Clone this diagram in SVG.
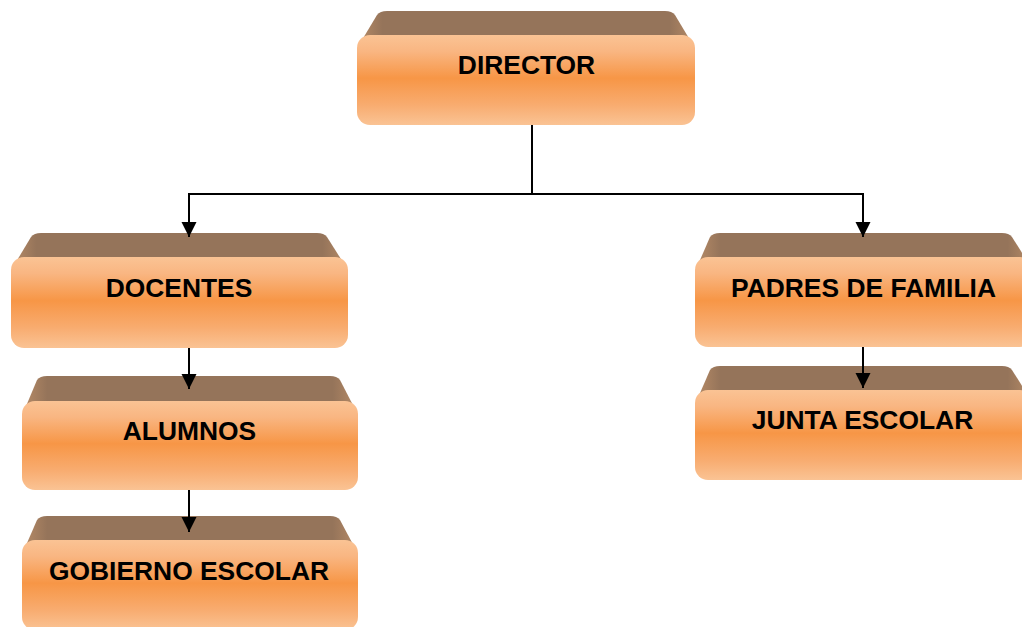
<svg xmlns="http://www.w3.org/2000/svg" width="1022" height="627" viewBox="0 0 1022 627">
  <defs>
    <linearGradient id="face" x1="0" y1="0" x2="0" y2="1">
      <stop offset="0" stop-color="#FAC394"/>
      <stop offset="0.18" stop-color="#F9B682"/>
      <stop offset="0.48" stop-color="#F79646"/>
      <stop offset="0.78" stop-color="#F8AC70"/>
      <stop offset="1" stop-color="#FAC394"/>
    </linearGradient>
    <linearGradient id="top" x1="0" y1="0" x2="1" y2="0">
      <stop offset="0" stop-color="#B58A66"/>
      <stop offset="0.07" stop-color="#95745A"/>
      <stop offset="0.93" stop-color="#95745A"/>
      <stop offset="1" stop-color="#B58A66"/>
    </linearGradient>
    <marker id="arrow" markerUnits="userSpaceOnUse" markerWidth="16" markerHeight="16" refX="15" refY="7.5" orient="auto">
      <path d="M0,0 L15,7.5 L0,15 Z" fill="#000"/>
    </marker>
    <style>
      .top { fill: url(#top); }
      .face { fill: url(#face); }
      .label { font-family: "Liberation Sans", Arial, sans-serif; font-weight: bold; font-size: 26.4px; fill: #000; text-anchor: middle; }
      .conn { fill: none; stroke: #000; stroke-width: 2; }
    </style>
  </defs>

  <g id="node-director">
    <path class="top" d="M359,45 L377,15 Q380,11 387,11 L665,11 Q672,11 675,15 L693,45 Z"/>
    <rect class="face" x="357" y="35" width="338" height="90" rx="13"/>
    <text class="label" x="526.5" y="74">DIRECTOR</text>
  </g>

  <g id="node-docentes">
    <path class="top" d="M13,267 L31,237 Q34,233 41,233 L317,233 Q324,233 327,237 L346,267 Z"/>
    <rect class="face" x="11" y="257" width="337" height="91" rx="13"/>
    <text class="label" x="179" y="297">DOCENTES</text>
  </g>

  <g id="node-alumnos">
    <path class="top" d="M24,411 L37,380 Q40,376 47,376 L330,376 Q337,376 340,380 L356,411 Z"/>
    <rect class="face" x="22" y="401" width="336" height="89" rx="13"/>
    <text class="label" x="189.5" y="440">ALUMNOS</text>
  </g>

  <g id="node-gobierno">
    <path class="top" d="M24,550 L37,520 Q40,516 47,516 L330,516 Q337,516 340,520 L356,550 Z"/>
    <rect class="face" x="22" y="540" width="336" height="90" rx="13"/>
    <text class="label" x="189" y="580">GOBIERNO ESCOLAR</text>
  </g>

  <g id="node-padres">
    <path class="top" d="M697,267 L710,237 Q713,233 720,233 L1002,233 Q1009,233 1012,237 L1031,267 Z"/>
    <rect class="face" x="695" y="257" width="338" height="90" rx="13"/>
    <text class="label" x="863.5" y="297">PADRES DE FAMILIA</text>
  </g>

  <g id="node-junta">
    <path class="top" d="M697,400 L710,370 Q713,366 720,366 L1002,366 Q1009,366 1012,370 L1031,400 Z"/>
    <rect class="face" x="695" y="390" width="338" height="90" rx="13"/>
    <text class="label" x="862.5" y="429">JUNTA ESCOLAR</text>
  </g>

  <g id="connectors">
    <path class="conn" d="M532,125 V194 H189 V237" marker-end="url(#arrow)"/>
    <path class="conn" d="M532,194 H863 V237" marker-end="url(#arrow)"/>
    <path class="conn" d="M189,348 V389" marker-end="url(#arrow)"/>
    <path class="conn" d="M189,490 V532" marker-end="url(#arrow)"/>
    <path class="conn" d="M863,347 V388" marker-end="url(#arrow)"/>
  </g>
</svg>
